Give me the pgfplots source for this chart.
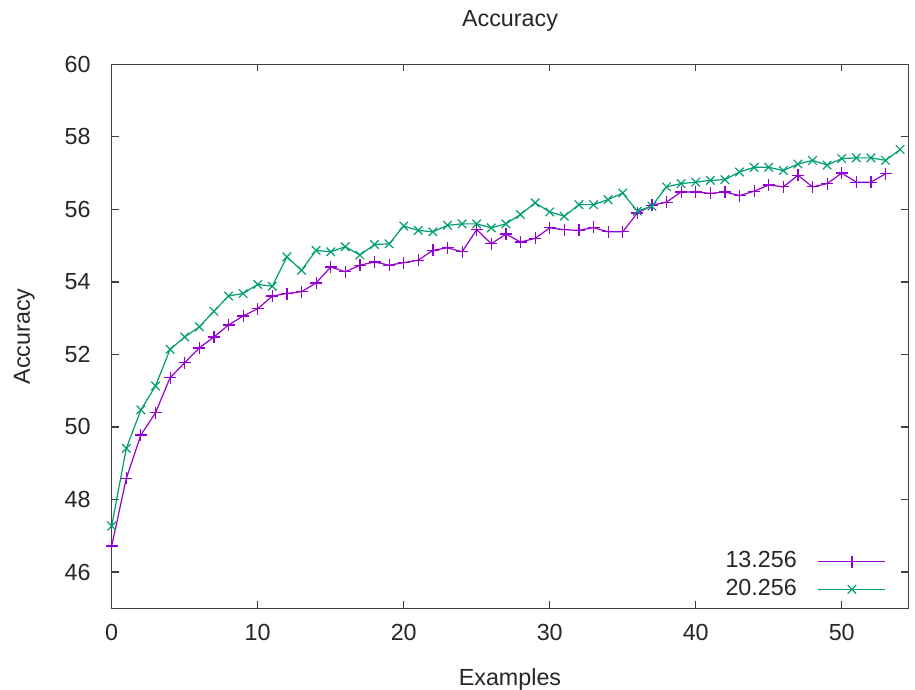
\documentclass[border=0pt]{standalone}
\usepackage{fontspec}
\setmainfont{Liberation Sans}
\usepackage{pgfplots}
\pgfplotsset{compat=1.18}
\definecolor{gpurple}{HTML}{9400D3}
\definecolor{ggreen}{HTML}{009E73}
\definecolor{axgray}{HTML}{404040}
\begin{document}
\fontsize{23.3pt}{28pt}\selectfont
\begin{tikzpicture}
\begin{axis}[
  name=ax,
  scale only axis,
  width=796.6pt, height=544pt,
  xmin=0, xmax=54.56, ymin=45, ymax=60,
  xtick={0,10,...,50}, ytick={46,48,...,60},
  minor tick num=0,
  tick align=inside,
  major tick length=7pt,
  axis line style={line width=1.3pt, axgray},
  every tick/.style={line width=1.3pt, axgray},
  /pgf/number format/assume math mode=true,
  ticklabel style={font=\fontsize{23.3pt}{28pt}\selectfont, text=black!85},
  yticklabel style={inner sep=0pt, xshift=-21pt},
  xticklabel style={inner sep=0pt, yshift=-16pt},
  title={Accuracy}, xlabel={Examples}, ylabel={Accuracy},
  every axis title/.style={at={(axis description cs:0.5,1.0691)}, anchor=base, inner sep=0pt, font=\fontsize{23.3pt}{28pt}\selectfont, text=black!85},
  xlabel style={at={(axis description cs:0.5,-0.141)}, anchor=base, inner sep=0pt, font=\fontsize{23.3pt}{28pt}\selectfont, text=black!85},
  ylabel style={at={(axis description cs:-0.1026,0.5)}, anchor=base, inner sep=0pt, rotate=0, font=\fontsize{23.3pt}{28pt}\selectfont, text=black!85},
  legend cell align=right,
  legend plot pos=right,
  legend image code/.code={\draw[mark repeat=2,mark phase=2,#1] plot coordinates {(0pt,0pt)(33.5pt,0pt)(67pt,0pt)};},
  legend style={at={(axis description cs:0.972,0.013)}, anchor=south east, draw=none, fill=none,
    inner sep=0pt, outer sep=0pt, row sep=4pt, column sep=19pt,
    font=\fontsize{23.3pt}{28pt}\selectfont, text=black!85,
    nodes={inner sep=2pt}},
]
\addplot[color=gpurple, line width=1.2pt, mark=+, mark size=6pt, mark options={line width=1.2pt}] coordinates {
(0,46.72)(1,48.58)(2,49.78)(3,50.39)(4,51.36)(5,51.77)(6,52.18)(7,52.48)(8,52.81)(9,53.06)
(10,53.26)(11,53.61)(12,53.68)(13,53.73)(14,53.97)(15,54.41)(16,54.28)(17,54.46)(18,54.55)(19,54.46)
(20,54.53)(21,54.60)(22,54.87)(23,54.94)(24,54.83)(25,55.44)(26,55.05)(27,55.32)(28,55.10)(29,55.20)
(30,55.49)(31,55.44)(32,55.42)(33,55.50)(34,55.38)(35,55.38)(36,55.90)(37,56.11)(38,56.20)(39,56.48)
(40,56.48)(41,56.44)(42,56.48)(43,56.38)(44,56.50)(45,56.67)(46,56.62)(47,56.94)(48,56.62)(49,56.71)
(50,57.00)(51,56.75)(52,56.75)(53,56.98)
};
\addlegendentry{13.256}
\addplot[color=ggreen, line width=1.2pt, mark=x, mark size=6pt, mark options={line width=1.2pt}] coordinates {
(0,47.27)(1,49.41)(2,50.47)(3,51.13)(4,52.14)(5,52.48)(6,52.76)(7,53.19)(8,53.61)(9,53.68)
(10,53.93)(11,53.88)(12,54.69)(13,54.32)(14,54.87)(15,54.83)(16,54.97)(17,54.74)(18,55.03)(19,55.05)
(20,55.54)(21,55.42)(22,55.38)(23,55.56)(24,55.60)(25,55.60)(26,55.49)(27,55.60)(28,55.86)(29,56.18)
(30,55.93)(31,55.81)(32,56.13)(33,56.13)(34,56.27)(35,56.45)(36,55.95)(37,56.09)(38,56.62)(39,56.71)
(40,56.75)(41,56.80)(42,56.82)(43,57.03)(44,57.16)(45,57.16)(46,57.07)(47,57.25)(48,57.35)(49,57.22)
(50,57.40)(51,57.42)(52,57.42)(53,57.35)(54,57.65)
};
\addlegendentry{20.256}
\end{axis}
\path[use as bounding box] ([shift={(-111.7pt,-81.7pt)}]ax.south west) rectangle ([shift={(6.7pt,64.3pt)}]ax.north east);
\end{tikzpicture}
\end{document}
